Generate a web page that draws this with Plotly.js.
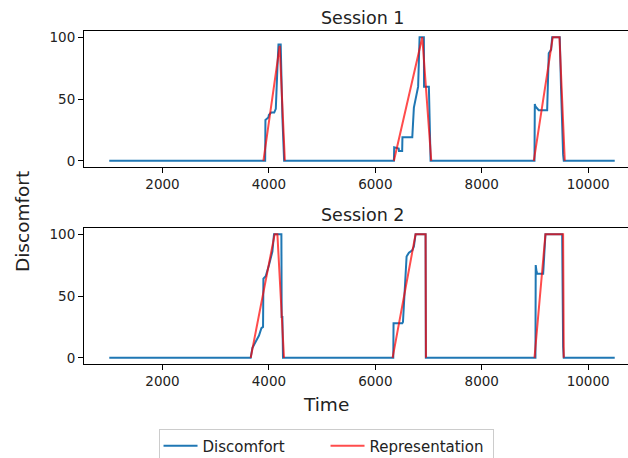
<!DOCTYPE html>
<html>
<head>
<meta charset="utf-8">
<script src="https://cdn.plot.ly/plotly-3.0.1.min.js"></script>
<style>
html, body { margin: 0; padding: 0; overflow: hidden; background: #fff; }
#chart { width: 652px; height: 472px; }
</style>
</head>
<body>
<div id="chart"></div>
<script>
// ---- Data ----
// Session 1 - Discomfort (blue), one array pair per section
var s1DiscTime = [1000, 3930, 3935, 3990, 4000, 4040, 4100, 4130, 4160, 4180, 4222, 4240, 4254, 4286];
var s1DiscVal  = [0,    0,    33,   35,   37,   39,   39,   42,   75,   94,   94,   60,   35,   0];
var s1DiscTime2 = [6350, 6355, 6440, 6445, 6505, 6510, 6695, 6725, 6757, 6789, 6805, 6832, 6913, 6916, 7007, 7039];
var s1DiscVal2  = [0,    11,   10,   8,    8,    19,   19,   43,   50,   57,   60,   100,  100,  60,   60,   0];
var s1DiscTime3 = [8992, 8998, 9010, 9072, 9230, 9260, 9305, 9324, 9467, 9490, 9510, 9530, 9542, 10500];
var s1DiscVal3  = [0,    46,   44,   41,   41,   87,   90,   100,  100,  60,   25,   5,    0,    0];
// Session 1 - Representation (red), one segment per episode
var s1RepTime  = [3897, 4203, 4300];
var s1RepVal   = [0,    93,   0];
var s1RepTime2 = [6350, 6883, 7052];
var s1RepVal2  = [0,    100,  0];
var s1RepTime3 = [8979, 9336, 9461, 9561];
var s1RepVal3  = [0,    100,  100,  0];

// Session 2 - Discomfort
var s2DiscTime = [1000, 3658, 3690, 3752, 3814, 3859, 3890, 3897, 3940, 4002, 4034, 4066, 4096, 4235, 4240, 4254, 4265];
var s2DiscVal  = [0,    0,    8,    13,   18,   24,   25,   64,   66,   75,   80,   86,   100,  100,  33,   33,   0];
var s2DiscTime2 = [6338, 6343, 6507, 6520, 6550, 6588, 6632, 6695, 6725, 6757, 6945, 6950];
var s2DiscVal2  = [0,    28,   28,   29,   54,   82,   85,   87,   90,   100,  100,  0];
var s2DiscTime3 = [9010, 9015, 9030, 9042, 9155, 9198, 9512, 9518, 9530, 9542, 10500];
var s2DiscVal3  = [0,    75,   70,   68,   68,   100,  100,  9,    9,    0,    0];
// Session 2 - Representation
var s2RepTime  = [3658, 4109, 4160, 4284];
var s2RepVal   = [0,    100,  100,  0];
var s2RepTime2 = [6325, 6757, 6945, 6952];
var s2RepVal2  = [0,    100,  100,  0];
var s2RepTime3 = [8992, 9198, 9530, 9542];
var s2RepVal3  = [0,    100,  100,  0];

var seriesNames = ["Discomfort", "Representation"];
var xTicks = [2000, 4000, 6000, 8000, 10000];
var yTicks = [0, 50, 100];
var subplotTitles = ["Session 1", "Session 2"];
var xLabel = "Time";
var yLabel = "Discomfort";

// ---- Build ----
function join(parts) { var r = []; parts.forEach(function (p, i) { if (i) r.push(null); r = r.concat(p); }); return r; }
function cat(parts) { var r = []; parts.forEach(function (p) { r = r.concat(p); }); return r; }
var blue = "#1f77b4";
var red = "rgba(255,0,0,0.7)";

var traces = [
  { x: cat([s1DiscTime, s1DiscTime2, s1DiscTime3]), y: cat([s1DiscVal, s1DiscVal2, s1DiscVal3]),
    xaxis: "x", yaxis: "y", mode: "lines", line: { color: blue, width: 2 }, name: seriesNames[0], legendgroup: "d" },
  { x: join([s1RepTime, s1RepTime2, s1RepTime3]), y: join([s1RepVal, s1RepVal2, s1RepVal3]), connectgaps: false,
    xaxis: "x", yaxis: "y", mode: "lines", line: { color: red, width: 2 }, name: seriesNames[1], legendgroup: "r" },
  { x: cat([s2DiscTime, s2DiscTime2, s2DiscTime3]), y: cat([s2DiscVal, s2DiscVal2, s2DiscVal3]),
    xaxis: "x2", yaxis: "y2", mode: "lines", line: { color: blue, width: 2 }, name: seriesNames[0], legendgroup: "d", showlegend: false },
  { x: join([s2RepTime, s2RepTime2, s2RepTime3]), y: join([s2RepVal, s2RepVal2, s2RepVal3]), connectgaps: false,
    xaxis: "x2", yaxis: "y2", mode: "lines", line: { color: red, width: 2 }, name: seriesNames[1], legendgroup: "r", showlegend: false }
];

var font = "DejaVu Sans, sans-serif";
function xAx(anchor) {
  return { range: [525, 10975], tickvals: xTicks, ticktext: xTicks.map(String), ticks: "outside", ticklen: 5,
    tickwidth: 1, tickcolor: "#000", showline: true, linecolor: "#000", linewidth: 1, mirror: true,
    showgrid: false, zeroline: false, anchor: anchor, tickfont: { family: font, size: 13.5, color: "#222" } };
}
function yAx(anchor, domain) {
  return { range: [-5, 105], tickvals: yTicks, ticktext: yTicks.map(String), ticks: "outside", ticklen: 5,
    tickwidth: 1, tickcolor: "#000", showline: true, linecolor: "#000", linewidth: 1, mirror: true,
    showgrid: false, zeroline: false, anchor: anchor, domain: domain, tickfont: { family: font, size: 13.5, color: "#222" } };
}

var layout = {
  width: 652, height: 472,
  margin: { l: 84, r: 12, t: 31, b: 108, autoexpand: false },
  paper_bgcolor: "#fff", plot_bgcolor: "#fff",
  showlegend: true,
  xaxis: xAx("y"), yaxis: yAx("x", [0.5916, 1]),
  xaxis2: xAx("y2"), yaxis2: yAx("x2", [0, 0.4084]),
  legend: { orientation: "h", x: 0.4353, xanchor: "center", y: -0.194, yanchor: "top",
    entrywidth: 118, entrywidthmode: "pixels", itemwidth: 34,
    font: { family: font, size: 15, color: "#222" }, bordercolor: "#cccccc", borderwidth: 1, bgcolor: "#fff" },
  annotations: [
    { text: subplotTitles[0], xref: "paper", yref: "paper", x: 0.5, y: 1.039, xanchor: "center", yanchor: "middle", showarrow: false, font: { family: font, size: 17.5, color: "#222" } },
    { text: subplotTitles[1], xref: "paper", yref: "paper", x: 0.5, y: 0.4475, xanchor: "center", yanchor: "middle", showarrow: false, font: { family: font, size: 17.5, color: "#222" } },
    { text: xLabel, xref: "paper", yref: "paper", x: 0.4353, y: -0.123, xanchor: "center", yanchor: "middle", showarrow: false, font: { family: font, size: 18.5, color: "#222" } },
    { text: yLabel, xref: "paper", yref: "paper", x: -0.1115, y: 0.4264, xanchor: "center", yanchor: "middle", textangle: -90, showarrow: false, font: { family: font, size: 18.5, color: "#222" } }
  ]
};

Plotly.newPlot("chart", traces, layout, { displayModeBar: false, staticPlot: true });
</script>
</body>
</html>
